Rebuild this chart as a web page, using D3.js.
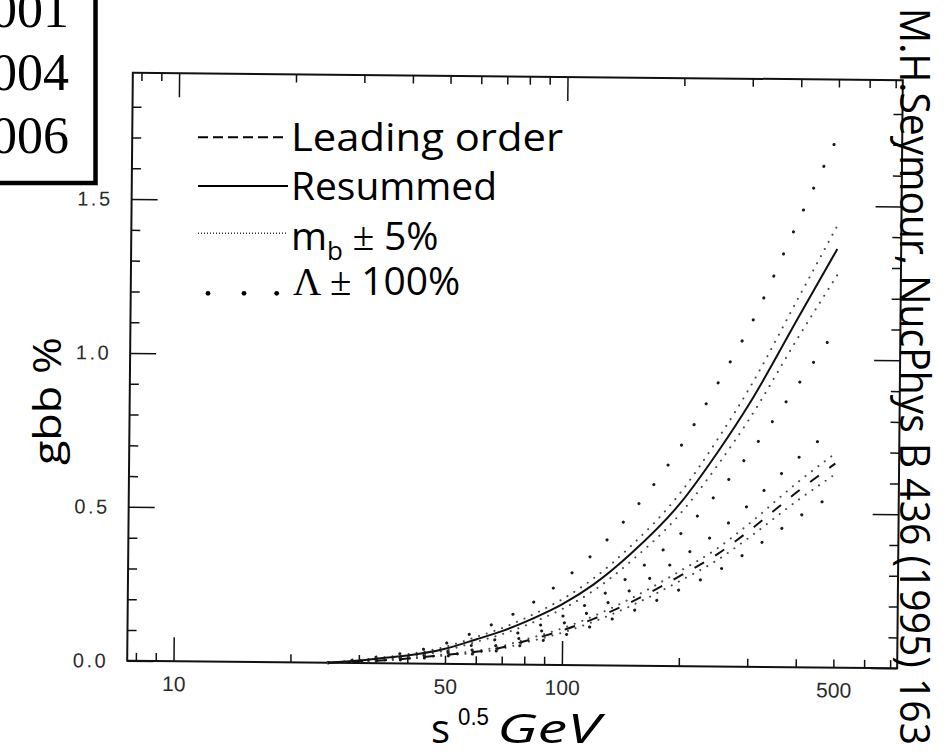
<!DOCTYPE html>
<html>
<head>
<meta charset="utf-8">
<script src="https://cdn.jsdelivr.net/npm/d3@7"></script>
<style>
  html, body { margin: 0; padding: 0; background: #fff; }
  svg { display: block; }
</style>
</head>
<body>
<svg id="chart" width="948" height="754"></svg>
<script>
// Centre-of-mass energy (GeV) at which the g -> bb rates are tabulated
const energies = [25, 30, 35, 40, 50, 60, 70, 80, 90, 100, 120, 150, 200, 250, 300, 400, 500];

// Resummed calculation and its variations (percent)
const resummed = [0.000, 0.008, 0.018, 0.026, 0.049, 0.080, 0.108, 0.138, 0.168, 0.198, 0.262, 0.365, 0.529, 0.700, 0.856, 1.140, 1.360];
const resMbHi  = [0.000, 0.010, 0.020, 0.030, 0.055, 0.088, 0.118, 0.150, 0.182, 0.214, 0.282, 0.390, 0.563, 0.743, 0.907, 1.205, 1.437];
const resMbLo  = [0.000, 0.006, 0.014, 0.022, 0.043, 0.072, 0.098, 0.126, 0.154, 0.182, 0.242, 0.340, 0.495, 0.657, 0.806, 1.075, 1.274];
const resLamHi = [0.000, 0.012, 0.024, 0.036, 0.066, 0.106, 0.145, 0.185, 0.228, 0.274, 0.364, 0.498, 0.715, 0.927, 1.109, 1.461, 1.730];
const resLamLo = [0.000, 0.006, 0.013, 0.020, 0.039, 0.064, 0.086, 0.110, 0.134, 0.158, 0.210, 0.294, 0.428, 0.566, 0.692, 0.920, 1.100];

// Leading-order calculation and its variations (percent)
const leading  = [0.000, 0.005, 0.010, 0.016, 0.029, 0.040, 0.055, 0.076, 0.094, 0.112, 0.150, 0.206, 0.292, 0.365, 0.440, 0.570, 0.663];
const loMbHi   = [0.000, 0.006, 0.011, 0.017, 0.031, 0.043, 0.059, 0.081, 0.100, 0.119, 0.159, 0.218, 0.308, 0.384, 0.463, 0.600, 0.696];
const loMbLo   = [0.000, 0.004, 0.009, 0.015, 0.027, 0.037, 0.051, 0.071, 0.088, 0.105, 0.141, 0.194, 0.276, 0.346, 0.418, 0.541, 0.628];
const loLamHi  = [0.000, 0.006, 0.012, 0.019, 0.035, 0.048, 0.066, 0.091, 0.113, 0.134, 0.179, 0.246, 0.350, 0.437, 0.526, 0.678, 0.782];
const loLamLo  = [0.000, 0.004, 0.008, 0.013, 0.025, 0.034, 0.047, 0.065, 0.080, 0.095, 0.128, 0.175, 0.248, 0.310, 0.374, 0.485, 0.565];

// Axis ticks and labels
const xMajorTicks = [10, 100];
const xMinorTicks = [8, 9, 20, 30, 40, 50, 60, 70, 80, 90, 200, 300, 400, 500, 600, 700];
const xTickLabels = [10, 50, 100, 500];
const yMajorTicks = [0, 0.5, 1.0, 1.5];
const yMinorTicks = [0.1, 0.2, 0.3, 0.4, 0.6, 0.7, 0.8, 0.9, 1.1, 1.2, 1.3, 1.4, 1.6, 1.7, 1.8];

// Side panel text
const yearLines = ["001", "004", "006"];
const citation = "M.H.Seymour, NucPhys B 436 (1995) 163";

const svg = d3.select("#chart");
const ink = "#111";
const comic = "'Comic Sans MS', 'Open Sans', sans-serif";

// ---- plot frame (slightly tilted page) ----
const frame = { left: 130, right: 900, top: 76.5, bottom: 664.5 };
const plot = svg.append("g").attr("transform", "rotate(0.55,515,370.5)");

const x = d3.scaleLog().domain([7.6, 730]).range([frame.left, frame.right]);
const y = d3.scaleLinear().domain([0, 1.91]).range([frame.bottom, frame.top]);

plot.append("rect")
  .attr("x", frame.left).attr("y", frame.top)
  .attr("width", frame.right - frame.left).attr("height", frame.bottom - frame.top)
  .attr("fill", "none").attr("stroke", ink).attr("stroke-width", 2);

function tickRow(gen, translate, vals, len) {
  plot.append("g")
    .attr("transform", translate)
    .call(gen.tickValues(vals).tickSize(len).tickFormat(""))
    .call(g => g.select(".domain").remove())
    .call(g => g.selectAll("line").attr("stroke", ink).attr("stroke-width", 1.5));
}
tickRow(d3.axisBottom(x), `translate(0,${frame.bottom})`, xMinorTicks, -8);
tickRow(d3.axisBottom(x), `translate(0,${frame.bottom})`, xMajorTicks, -24);
tickRow(d3.axisTop(x), `translate(0,${frame.top})`, xMinorTicks, -8);
tickRow(d3.axisTop(x), `translate(0,${frame.top})`, xMajorTicks, -24);
tickRow(d3.axisLeft(y), `translate(${frame.left},0)`, yMinorTicks, -9);
tickRow(d3.axisLeft(y), `translate(${frame.left},0)`, yMajorTicks, -26);
tickRow(d3.axisRight(y), `translate(${frame.right},0)`, yMinorTicks, -9);
tickRow(d3.axisRight(y), `translate(${frame.right},0)`, yMajorTicks, -26);

// tick labels
plot.append("g")
  .attr("transform", `translate(0,${frame.bottom})`)
  .call(d3.axisBottom(x).tickValues(xTickLabels).tickSize(0).tickPadding(15).tickFormat(d3.format("d")))
  .call(g => g.select(".domain").remove())
  .attr("font-family", "'Liberation Sans', Arial, sans-serif")
  .attr("font-size", 21)
  .style("color", "#2a2a2a");

plot.append("g")
  .attr("transform", `translate(${frame.left},0)`)
  .call(d3.axisLeft(y).tickValues(yMajorTicks).tickSize(0).tickPadding(19).tickFormat(d3.format(".1f")))
  .call(g => g.select(".domain").remove())
  .attr("font-family", "'Liberation Sans', Arial, sans-serif")
  .attr("font-size", 20)
  .style("color", "#2a2a2a")
  .call(g => g.selectAll("text").style("letter-spacing", "2.5px"));

// ---- curves ----
const line = d3.line()
  .x(d => x(d[0]))
  .y(d => y(d[1]))
  .curve(d3.curveMonotoneX);

const styles = {
  lam:    { stroke: "#1a1a1a", width: 3,   dash: "0.1,24", cap: "round" },
  mb:     { stroke: "#4a4a4a", width: 2,   dash: "0.1,8",  cap: "round" },
  solid:  { stroke: ink,       width: 2,   dash: null,     cap: "butt" },
  dashed: { stroke: ink,       width: 2,   dash: "11,13",  cap: "butt" }
};

const curves = [
  { vals: resLamHi, style: "lam" },
  { vals: resLamLo, style: "lam" },
  { vals: loLamHi,  style: "lam" },
  { vals: loLamLo,  style: "lam" },
  { vals: resMbHi,  style: "mb" },
  { vals: resMbLo,  style: "mb" },
  { vals: loMbHi,   style: "mb" },
  { vals: loMbLo,   style: "mb" },
  { vals: leading,  style: "dashed" },
  { vals: resummed, style: "solid" }
];

plot.append("g").selectAll("path")
  .data(curves)
  .join("path")
  .attr("d", c => line(energies.map((e, i) => [e, c.vals[i]])))
  .attr("fill", "none")
  .attr("stroke", c => styles[c.style].stroke)
  .attr("stroke-width", c => styles[c.style].width)
  .attr("stroke-dasharray", c => styles[c.style].dash)
  .attr("stroke-linecap", c => styles[c.style].cap);

// ---- legend ----
const legend = svg.append("g").attr("fill", "#000");
const lx0 = 198, lx1 = 288, tx = 291;
const legendSize = 39;

legend.append("line").attr("x1", lx0).attr("x2", lx1).attr("y1", 137.3).attr("y2", 137.3)
  .attr("stroke", "#000").attr("stroke-width", 2).attr("stroke-dasharray", "10,5");
legend.append("text").attr("x", tx).attr("y", 150.5)
  .attr("font-family", comic).attr("font-size", legendSize)
  .attr("textLength", 272).attr("lengthAdjust", "spacingAndGlyphs")
  .text("Leading order");

legend.append("line").attr("x1", lx0).attr("x2", lx1).attr("y1", 186).attr("y2", 186)
  .attr("stroke", "#000").attr("stroke-width", 2);
legend.append("text").attr("x", tx).attr("y", 200)
  .attr("font-family", comic).attr("font-size", legendSize)
  .attr("textLength", 206).attr("lengthAdjust", "spacingAndGlyphs")
  .text("Resummed");

legend.append("line").attr("x1", lx0).attr("x2", lx1).attr("y1", 233.3).attr("y2", 233.3)
  .attr("stroke", "#333").attr("stroke-width", 1.4).attr("stroke-dasharray", "1,2");
const mbText = legend.append("text").attr("x", tx).attr("y", 250)
  .attr("font-family", comic).attr("font-size", legendSize);
mbText.append("tspan").text("m");
mbText.append("tspan").attr("font-size", 26).attr("dy", 10).text("b");
mbText.append("tspan").attr("dy", -10).attr("font-family", "'Liberation Serif', serif").text(" ± ");
mbText.append("tspan").text("5%");

legend.selectAll("circle.lamdot")
  .data([208, 244, 276.7])
  .join("circle")
  .attr("cx", d => d).attr("cy", 293.3).attr("r", 2.4);
const lamText = legend.append("text").attr("x", 293).attr("y", 295)
  .attr("font-family", comic).attr("font-size", legendSize);
lamText.append("tspan").attr("font-family", "'Liberation Serif', serif").text("Λ ± ");
lamText.append("tspan").text("100%");

// ---- axis titles ----
svg.append("text")
  .attr("transform", "translate(61,401) rotate(-90)")
  .attr("text-anchor", "middle")
  .attr("font-family", comic).attr("font-size", 38)
  .attr("textLength", 128).attr("lengthAdjust", "spacingAndGlyphs")
  .text("gbb %");

svg.append("text").attr("x", 431).attr("y", 743)
  .attr("font-family", comic).attr("font-size", 40).text("s");
svg.append("text").attr("x", 458).attr("y", 725)
  .attr("font-family", "'Liberation Sans', Arial, sans-serif").attr("font-size", 24)
  .attr("textLength", 31).attr("lengthAdjust", "spacingAndGlyphs").text("0.5");
svg.append("text").attr("x", 497).attr("y", 743)
  .attr("font-family", comic).attr("font-size", 40).attr("font-style", "italic")
  .attr("textLength", 103).attr("lengthAdjust", "spacingAndGlyphs").text("GeV");

// ---- citation down the right edge ----
svg.append("text")
  .attr("transform", "translate(900,8) rotate(90)")
  .attr("font-family", comic).attr("font-size", 42)
  .attr("textLength", 737).attr("lengthAdjust", "spacingAndGlyphs")
  .text(citation);

// ---- boxed list at top-left ----
svg.append("rect")
  .attr("x", -10).attr("y", -10).attr("width", 105.5).attr("height", 193)
  .attr("fill", "none").attr("stroke", "#000").attr("stroke-width", 4.5);
svg.append("g").selectAll("text")
  .data(yearLines)
  .join("text")
  .attr("x", 69).attr("y", (d, i) => 27 + i * 62.8)
  .attr("text-anchor", "end")
  .attr("font-family", "'Liberation Serif', 'Times New Roman', serif")
  .attr("font-size", 52)
  .text(d => d);
</script>
</body>
</html>
